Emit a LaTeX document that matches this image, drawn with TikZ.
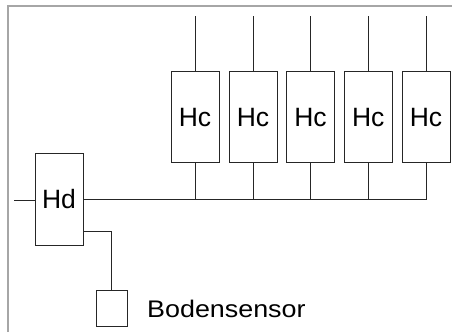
\documentclass[tikz,border=0pt]{standalone}
\usepackage{fontspec}
\setmainfont{Liberation Sans}
\begin{document}
\begin{tikzpicture}[x=1pt,y=-1pt,
  wire/.style={draw=black!85,line width=0.9pt},
  box/.style={draw=black!85,line width=0.9pt,fill=white,inner sep=0pt,minimum width=48pt,minimum height=91pt,font=\fontsize{26.5}{28}\selectfont},
  frameline/.style={draw=black!35,line width=1.2pt}]
\useasboundingbox (0,0) rectangle (452,332);
% frame
\draw[frameline] (8,332) -- (8,6) -- (452,6);
% Hd
\node[box,minimum height=92pt] (hd) at (59,199) {Hd};
\coordinate (lin) at (14,200);
\draw[wire] (lin) -- (hd.west |- lin);
% Hc boxes
\foreach \i/\x in {1/195,2/253,3/310.5,4/368.3,5/426}{
  \node[box] (hc\i) at (\x,117.3) {Hc};
  \coordinate (top\i) at (\x,16);
  \coordinate (bus\i) at (\x,199.5);
  \draw[wire] (top\i) -- (hc\i.north);
  \draw[wire] (hc\i.south) -- (bus\i);
}
\draw[wire] (hd.east |- bus1) -- (bus5);
% sensor
\node[draw=black!85,line width=0.9pt,minimum width=31.5pt,minimum height=36pt,inner sep=0pt] (bs) at (111.8,308) {};
\coordinate (hdout) at (83,231);
\draw[wire] (hd.east |- hdout) -| (bs.north);
\node[anchor=base west,inner sep=0pt,font=\fontsize{24}{26}\selectfont] (bst) at (147,317.7) {\scalebox{1.12}[1]{Bodensensor}};
\end{tikzpicture}
\end{document}
